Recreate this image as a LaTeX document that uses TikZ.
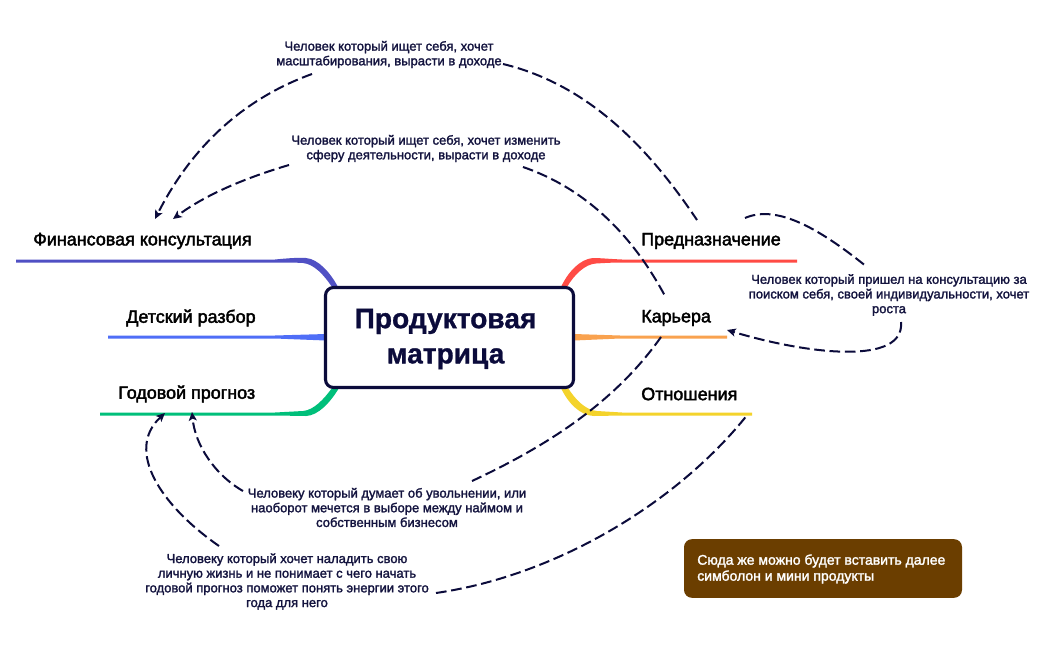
\documentclass[tikz,border=0pt]{standalone}
\usepackage{fontspec}
\setmainfont{Liberation Sans}
\newfontfamily\medfont[FakeBold=2.2]{Liberation Sans}
\newfontfamily\lightmed[FakeBold=1.8]{Liberation Sans}
\newfontfamily\heavyfont[FakeBold=1]{Liberation Sans Bold}
\usetikzlibrary{arrows.meta}
\definecolor{navy}{HTML}{0B0B3B}
\definecolor{inkt}{HTML}{14143F}
\definecolor{cfin}{HTML}{5050C4}
\definecolor{cdet}{HTML}{4F6EF7}
\definecolor{cgod}{HTML}{00BF7A}
\definecolor{cpre}{HTML}{FF4B45}
\definecolor{ckar}{HTML}{F9A24F}
\definecolor{cotn}{HTML}{F4D32B}
\definecolor{brownbox}{HTML}{6B3E00}
\tikzset{
 x=0.75pt,y=-0.75pt,
 hub/.style={draw=navy,line width=2.3pt,fill=white,rounded corners=6pt,minimum width=186pt,minimum height=75pt,inner sep=0pt},
 hubtext/.style={inner sep=0pt,align=center,font=\fontsize{21.1}{26.4}\selectfont\heavyfont,text=navy},
 topic/.style={font=\fontsize{13.45}{15}\selectfont\medfont,text=black,inner sep=0pt,anchor=west},
 note/.style={font=\fontsize{9.75}{11}\selectfont\lightmed,text=inkt,inner sep=0pt,align=center},
 link/.style={draw=navy,line width=1.5pt,dash pattern=on 8pt off 3.5pt},
 linkarrow/.style={link,-{Stealth[length=6.5pt,width=6pt,inset=1.5pt]}},
}
\begin{document}
\begin{tikzpicture}
\useasboundingbox (0,0) rectangle (1049,650);
\fill[white] (0,0) rectangle (1049,650);
% named ends
\coordinate (a1s) at (503,64); \coordinate (a1e) at (697,220);
\coordinate (a2s) at (312,74); \coordinate (a2e) at (155,219);
\coordinate (a3s) at (289,165); \coordinate (a3e) at (173,219);
\coordinate (a4s) at (523,167); \coordinate (a4e) at (665,296);
\coordinate (a5s) at (745,218); \coordinate (a5e) at (867,267);
\coordinate (a6s) at (901,322); \coordinate (a6e) at (727,330);
\coordinate (a7s) at (661,337); \coordinate (a7e) at (472,481);
\coordinate (a8s) at (243,491); \coordinate (a8e) at (192,412);
\coordinate (a9s) at (219,546); \coordinate (a9e) at (165,413);
\coordinate (a10s) at (436,593); \coordinate (a10e) at (748,414);
% branches
\fill[cfin] (16,259.5) -- (275,259.5) .. controls (290,258) and (300,257.5) .. (306,258) .. controls (318,259) and (330,272) .. (338,287) -- (332,287) .. controls (324,275) and (314,264) .. (303,263) .. controls (295,262.5) and (285,262.5) .. (275,262.5) -- (16,262.5) -- cycle;
\fill[cdet] (108,335.5) -- (275,335.5) -- (326,334) -- (326,340.5) -- (275,338.5) -- (108,338.5) -- cycle;
\fill[cgod] (100,412.5) -- (275,412.5) -- (303,411) .. controls (314,410) and (324,399) .. (332,388) -- (339,388) .. controls (330,403) and (318,415.5) .. (306,416) -- (275,415.5) -- (100,415.5) -- cycle;
\fill[cpre] (797,259.5) -- (622,259.5) .. controls (610,259) and (600,258) .. (593,258) .. controls (580,259) and (568,272) .. (561,287) -- (567,287) .. controls (574,275) and (585,264) .. (596,263.5) .. controls (605,263) and (612,262.5) .. (622,262.5) -- (797,262.5) -- cycle;
\fill[ckar] (727,335.5) -- (620,335.5) -- (574,334) -- (574,340.5) -- (620,338.5) -- (727,338.5) -- cycle;
\fill[cotn] (752,412.5) -- (622,412.5) -- (597,411) .. controls (585,410) and (575,399) .. (568,388) -- (561,388) .. controls (568,403) and (580,415.5) .. (594,416) -- (622,415.5) -- (752,415.5) -- cycle;
% hub
\node[hub] (hub) at (449.5,337.5) {};
\node[hubtext] (hubt) at (445.5,339) {Продуктовая\\матрица};
% topics
\node[topic] (fin) at (33,241) {Финансовая консультация};
\node[topic] (det) at (126,318) {Детский разбор};
\node[topic] (god) at (118,394) {Годовой прогноз};
\node[topic] (pre) at (641,241) {Предназначение};
\node[topic] (kar) at (641,318) {Карьера};
\node[topic] (otn) at (641,394) {Отношения};
% notes
\node[note] (n1) at (389,54.5) {Человек который ищет себя, хочет\\масштабирования, вырасти в доходе};
\node[note] (n2) at (426,148.5) {Человек который ищет себя, хочет изменить\\сферу деятельности, вырасти в доходе};
\node[note] (n3) at (889,295) {Человек который пришел на консультацию за\\поиском себя, своей индивидуальности, хочет\\роста};
\node[note] (n4) at (387,507.5) {Человеку который думает об увольнении, или\\наоборот мечется в выборе между наймом и\\собственным бизнесом};
\node[note] (n5) at (287,581.5) {Человеку который хочет наладить свою\\личную жизнь и не понимает с чего начать\\годовой прогноз поможет понять энергии этого\\года для него};
\node[fill=brownbox,rounded corners=6pt,minimum width=208.5pt,minimum height=44pt,inner sep=0pt] (bx) at (823,568.5) {};
\node[font=\fontsize{10.5}{12}\selectfont\lightmed,text=white,inner sep=0pt,align=left,anchor=west] (bxt) at (697,569) {Сюда же можно будет вставить далее\\симболон и мини продукты};
% connectors
\draw[link] (a1s) .. controls (590,85) and (650,150) .. (a1e);
\draw[linkarrow] (a2s) .. controls (240,100) and (190,150) .. (a2e);
\draw[linkarrow] (a3s) .. controls (245,178) and (205,195) .. (a3e);
\draw[link] (a4s) .. controls (590,190) and (635,240) .. (a4e);
\draw[link] (a5s) .. controls (775,205) and (815,225) .. (a5e);
\draw[linkarrow] (a6s) .. controls (905,365) and (810,355) .. (a6e);
\draw[link] (a7s) .. controls (620,395) and (560,440) .. (a7e);
\draw[linkarrow] (a8s) .. controls (215,475) and (195,445) .. (a8e);
\draw[linkarrow] (a9s) .. controls (160,505) and (125,450) .. (a9e);
\draw[link] (a10s) .. controls (560,575) and (680,500) .. (a10e);
\end{tikzpicture}
\end{document}
